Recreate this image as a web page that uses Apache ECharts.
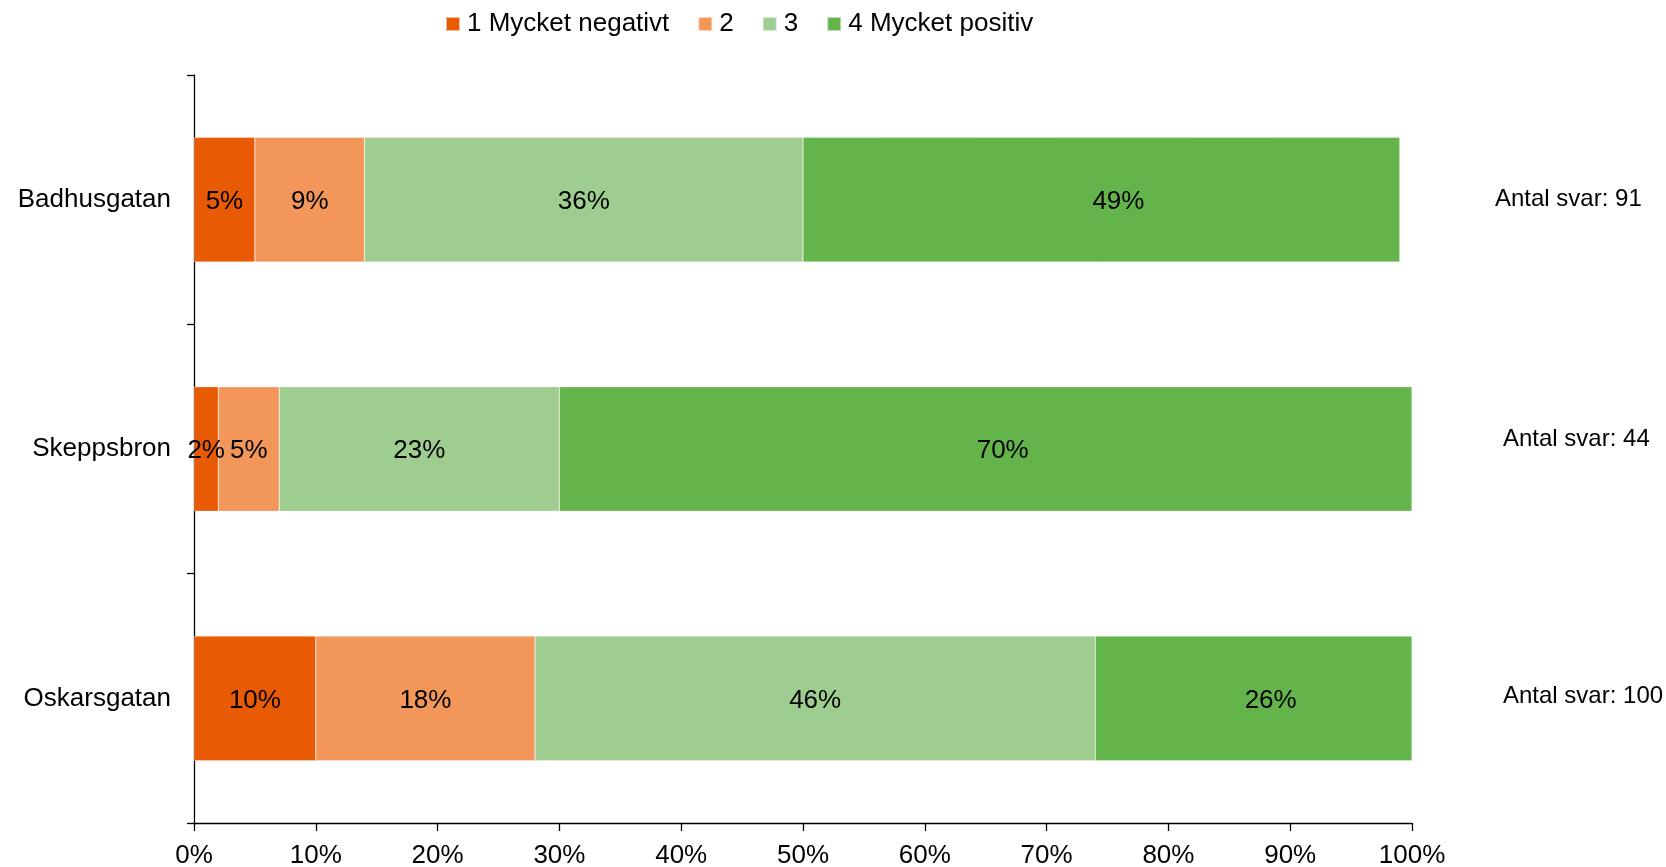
<!DOCTYPE html>
<html>
<head>
<meta charset="utf-8">
<script src="https://cdn.jsdelivr.net/npm/echarts@6/dist/echarts.min.js"></script>
<style>
html,body{margin:0;padding:0;background:#fff;}
#chart{width:1666px;height:867px;}
</style>
</head>
<body>
<div id="chart"></div>
<script>
const categories = ["Badhusgatan", "Skeppsbron", "Oskarsgatan"];
const seriesNames = ["1 Mycket negativt", "2", "3", "4 Mycket positiv"];
const neg1 = [5, 2, 10];
const val2 = [9, 5, 18];
const val3 = [36, 23, 46];
const pos4 = [49, 70, 26];
const answerCounts = [91, 44, 100];
const xTicks = [0, 10, 20, 30, 40, 50, 60, 70, 80, 90, 100];

const colors = ["#E85A04", "#F2965A", "#9ECD8F", "#64B44C"];
const labelShiftX = [0, 0, 0, 17];
const FONT = "Liberation Sans, Arial, sans-serif";
const FS = 26;
const values = [neg1, val2, val3, pos4];

const chart = echarts.init(document.getElementById('chart'), null, {renderer: 'canvas'});

const series = seriesNames.map((name, i) => ({
  name: name,
  type: 'bar',
  stack: 'total',
  barWidth: '50%',
  data: values[i],
  itemStyle: {color: colors[i], borderColor: 'rgba(255,255,255,0.6)', borderWidth: 0.5},
  label: {
    show: true,
    position: 'inside',
    offset: [labelShiftX[i], 2],
    formatter: '{c}%',
    color: '#000',
    fontFamily: FONT,
    fontSize: FS
  },
  emphasis: {disabled: true}
}));

const option = {
  animation: false,
  backgroundColor: '#fff',
  color: colors,
  textStyle: {fontFamily: FONT},
  legend: {
    data: seriesNames,
    left: 440,
    top: 6,
    itemWidth: 14,
    itemHeight: 14,
    itemGap: 28,
    icon: 'rect',
    textStyle: {fontFamily: FONT, fontSize: FS, color: '#000', padding: [0, 0, 0, 2]}
  },
  grid: {left: 194, right: 254, top: 75, bottom: 44, containLabel: false, outerBoundsMode: 'none'},
  xAxis: {
    type: 'value',
    min: 0,
    max: 100,
    interval: 10,
    splitLine: {show: false},
    axisLine: {show: true, lineStyle: {color: '#000', width: 1.3}},
    axisTick: {show: true, length: 8, lineStyle: {color: '#000', width: 1.3}},
    axisLabel: {
      formatter: v => xTicks.includes(v) ? v + '%' : '',
      color: '#000',
      fontFamily: FONT,
      fontSize: FS,
      margin: 20
    }
  },
  yAxis: [{
    type: 'category',
    data: categories,
    inverse: true,
    axisLine: {show: true, lineStyle: {color: '#000', width: 1.3}},
    axisTick: {show: true, length: 7, lineStyle: {color: '#000', width: 1.3}},
    axisLabel: {color: '#000', fontFamily: FONT, fontSize: FS, margin: 23}
  }, {
    type: 'category',
    data: categories,
    inverse: true,
    position: 'right',
    axisLine: {show: false},
    axisTick: {show: false},
    axisLabel: {
      margin: 83,
      align: 'left',
      formatter: (v, idx) => '{s' + idx + '|Antal svar: ' + answerCounts[idx] + '}',
      rich: {
        s0: {color: '#000', fontFamily: FONT, fontSize: 24, padding: [0, 0, 0, 0]},
        s1: {color: '#000', fontFamily: FONT, fontSize: 24, padding: [0, 0, 20, 8]},
        s2: {color: '#000', fontFamily: FONT, fontSize: 24, padding: [0, 0, 4, 8]}
      }
    }
  }],
  series: series
};

chart.setOption(option);
</script>
</body>
</html>
